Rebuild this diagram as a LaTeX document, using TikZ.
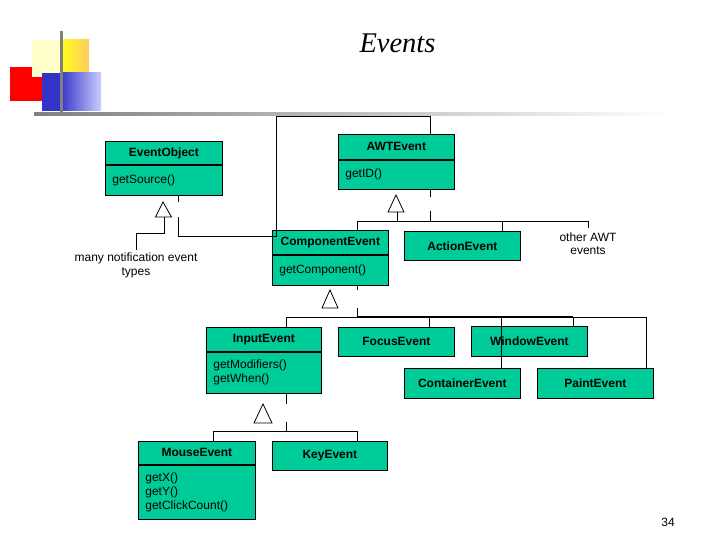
\documentclass[tikz,border=0pt]{standalone}
\usepackage{fontspec}
\setmainfont{Liberation Sans}
\newfontfamily\titlefont{Liberation Serif}
\usetikzlibrary{calc}
\definecolor{umlgreen}{RGB}{0,204,153}
\definecolor{lyellow}{RGB}{255,255,204}
\definecolor{byellow}{RGB}{255,255,20}
\definecolor{lorange}{RGB}{255,204,100}
\definecolor{dblue}{RGB}{51,51,200}
\definecolor{lblue}{RGB}{205,205,255}
\definecolor{lgray}{RGB}{128,128,128}
\begin{document}
\begin{tikzpicture}[x=1pt,y=-1pt,
  box/.style={draw, fill=umlgreen, line width=0.8pt, inner sep=0pt, anchor=north west},
  cname/.style={box, font=\bfseries\fontsize{12}{14}\selectfont},
  body/.style={box, font=\fontsize{12}{14}\selectfont, align=left, inner xsep=7pt},
  conn/.style={line width=0.8pt},
  tri/.style={draw, fill=white, line width=0.8pt, line join=miter},
  lbl/.style={font=\fontsize{12}{13.5}\selectfont, align=center, inner sep=0pt}]
\useasboundingbox (0,0) rectangle (720,540);

% logo
\fill[red] (10,67) rectangle (42,101);
\fill[lyellow] (32,40) rectangle (60,77);
\shade[left color=byellow, right color=lorange] (60,40) rectangle (89,73);
\fill[dblue] (42,73) rectangle (61,111);
\shade[left color=dblue, right color=lblue] (60,73) rectangle (101,111);
\fill[lgray] (60,31) rectangle (62.5,114);
\shade[left color=lgray, right color=white] (34,112.5) rectangle (670,115.5);

% title and page number
\node[font=\titlefont\itshape\fontsize{28.5}{30}\selectfont, anchor=base] (title) at (397.5,53) {Events};
\node[font=\fontsize{12}{14}\selectfont] (pg) at (668,522) {34};

% classes with bodies
\node[cname, minimum width=117pt, minimum height=23pt] (eoH) at (105,141) {EventObject};
\node[body, text width=103pt, minimum height=30pt] (eoB) at (eoH.south west) {getSource()};

\node[cname, minimum width=116pt, minimum height=25pt] (awH) at (338,134) {AWTEvent};
\node[body, text width=102pt, minimum height=29pt] (awB) at (awH.south west) {getID()};

\node[cname, minimum width=116pt, minimum height=24pt] (cmH) at (272,230) {ComponentEvent};
\node[body, text width=102pt, minimum height=30pt] (cmB) at (cmH.south west) {getComponent()};

\node[cname, minimum width=115pt, minimum height=24pt] (inH) at (206,327) {InputEvent};
\node[body, text width=101pt, minimum height=41pt] (inB) at (inH.south west) {getModifiers()\\getWhen()};

\node[cname, minimum width=117pt, minimum height=23pt] (msH) at (138,441) {MouseEvent};
\node[body, text width=103pt, minimum height=54pt] (msB) at (msH.south west) {getX()\\getY()\\getClickCount()};

% simple classes
\node[cname, minimum width=116pt, minimum height=29pt] (act) at (404,231) {ActionEvent};
\node[cname, minimum width=116pt, minimum height=29pt] (foc) at (338,327) {FocusEvent};
\node[cname, minimum width=116pt, minimum height=30pt] (win) at (471,326) {WindowEvent};
\node[cname, minimum width=116pt, minimum height=30pt] (con) at (404,368) {ContainerEvent};
\node[cname, minimum width=116pt, minimum height=30pt] (pnt) at (537,368) {PaintEvent};
\node[cname, minimum width=115pt, minimum height=29pt] (key) at (272,441) {KeyEvent};

% labels
\node[lbl] (many) at (136,265.5) {many notification event\\types};
\node[lbl] (other) at (588,243.5) {other AWT\\events};

% junction coordinates
\coordinate (a1) at (178,236);
\coordinate (a2) at (276,236);
\coordinate (a3) at (430,116);
\coordinate (t1) at (164,233);
\coordinate (t1b) at (136,233);
\coordinate (b0) at (430,221);
\coordinate (b1) at (357,221);
\coordinate (b2) at (502,221);
\coordinate (b3) at (588,221);
\coordinate (c0) at (357,317);
\coordinate (c1) at (286,317);
\coordinate (c2) at (429,317);
\coordinate (c3) at (501,317);
\coordinate (c4) at (573,317);
\coordinate (c5) at (646,317);
\coordinate (d0) at (286,431);
\coordinate (d1) at (213,431);
\coordinate (d2) at (357,431);

% EventObject connectors
\draw[conn] (a1 |- eoB.south) -- (178,202);
\draw[conn] (178,217) -- (a1) -- (a2) -- (a2 |- a3) -- (a3) -- (a3 |- awH.north);
\draw[tri] (163,202) -- (155.5,217) -- (171.5,217) -- cycle;
\draw[conn] (t1 |- 0,217) -- (t1) -- (t1b) -- ([yshift=3pt]t1b |- many.north);

% AWTEvent connectors
\draw[conn] (b0 |- awB.south) -- (430,197);
\draw[conn] (430,211) -- (b0);
\draw[tri] (396,195) -- (388,212) -- (404,212) -- cycle;
\draw[conn] (397,212) -- (397,221);
\draw[conn] (b1) -- (b3);
\draw[conn] (b1) -- (b1 |- cmH.north);
\draw[conn] (b2) -- (b2 |- act.north);
\draw[conn] (b3) -- ([yshift=4pt]b3 |- other.north);

% ComponentEvent connectors
\draw[tri] (330,290) -- (322,308) -- (338,308) -- cycle;
\draw[conn] (c0 |- cmB.south) -- (357,290);
\draw[conn] (357,308) -- (c0);
\draw[conn] (c1) -- (c5);
\draw[line width=1.6pt] (c0) -- (c4);
\draw[conn] (c1) -- (c1 |- inH.north);
\draw[conn] (c2) -- (c2 |- foc.north);
\draw[conn] (c3) -- (c3 |- con.north);
\draw[conn] (c4) -- (c4 |- win.north);
\draw[conn] (c5) -- (c5 |- pnt.north);

% InputEvent connectors
\draw[tri] (263,404) -- (254,423) -- (272,423) -- cycle;
\draw[conn] (d0 |- inB.south) -- (286,404);
\draw[conn] (286,422) -- (d0);
\draw[conn] (d1) -- (d2);
\draw[conn] (d1) -- (d1 |- msH.north);
\draw[conn] (d2) -- (d2 |- key.north);
\end{tikzpicture}
\end{document}
